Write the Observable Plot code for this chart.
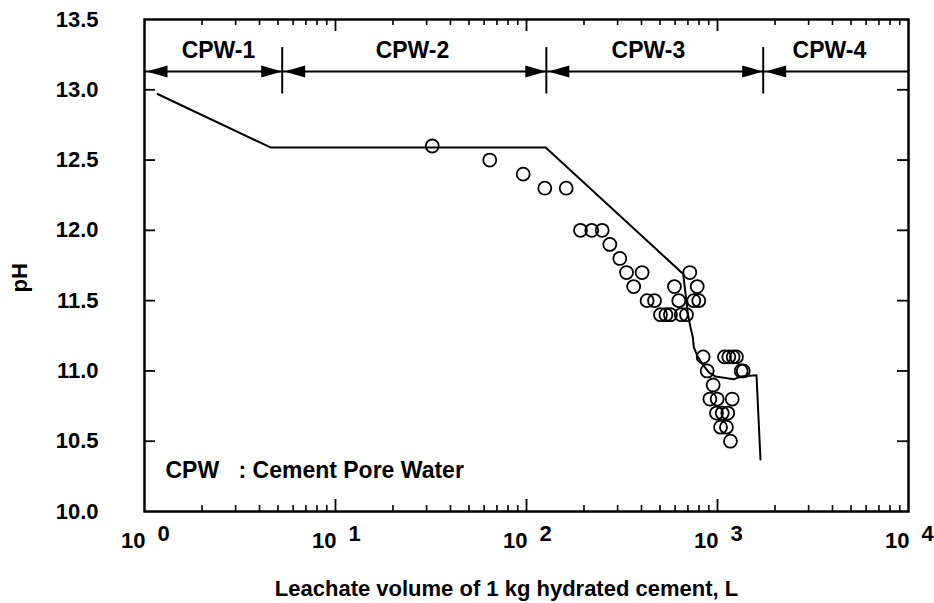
<!DOCTYPE html>
<html><head><meta charset="utf-8">
<script src="https://cdn.jsdelivr.net/npm/d3@7"></script>
<script src="https://cdn.jsdelivr.net/npm/@observablehq/plot@0.6"></script>
<style>
  body { margin: 0; background: #fff; }
  #chart svg { display: block; }
</style>
</head><body><div id="chart"></div>
<script>
// ---- measured pH of leachate (circles) ----
const measuredVolume = [32.1, 64.2, 96.1, 124.7, 161.4, 191.7, 219.6, 249, 273, 308, 334, 403, 364, 428, 468,
  503, 537, 567, 646, 688, 716, 595, 783, 627, 751, 798, 841, 1088, 1146, 1208, 1257, 883, 1330, 1364,
  949, 912, 996, 1194, 988, 1059, 1132, 1037, 1114, 1169];
const measuredPH = [12.6, 12.5, 12.4, 12.3, 12.3, 12.0, 12.0, 12.0, 11.9, 11.8, 11.7, 11.7, 11.6, 11.5, 11.5,
  11.4, 11.4, 11.4, 11.4, 11.4, 11.7, 11.6, 11.6, 11.5, 11.5, 11.5, 11.1, 11.1, 11.1, 11.1, 11.1, 11.0, 11.0, 11.0,
  10.9, 10.8, 10.8, 10.8, 10.7, 10.7, 10.7, 10.6, 10.6, 10.5];

// ---- model curve (line) ----
const modelVolume = [1.17, 4.57, 126, 661, 680, 699, 722, 743, 751, 783, 832, 900, 977, 1217, 1319, 1600, 1679];
const modelPH = [12.97, 12.59, 12.59, 11.69, 11.55, 11.41, 11.31, 11.24, 11.17, 11.11, 11.05, 10.99, 10.96, 10.94, 10.96, 10.97, 10.37];

// ---- region annotations ----
const regionLabels = ["CPW-1", "CPW-2", "CPW-3", "CPW-4"];
const regionLabelVolume = [2.44, 25.3, 435, 3856];
const regionLabelPH = 13.28;
const regionBoundaries = [5.26, 127, 1735];
const arrowPH = 13.13;
const dividerPH = [12.97, 13.30];
const noteKey = "CPW";
const noteText = ": Cement Pore Water";
const noteVolume = [1.288, 3.105];
const notePH = 10.29;

// ---- axes ----
const xDomain = [1, 10000];
const yDomain = [10, 13.5];
const decades = [1, 10, 100, 1000, 10000];
const minorTicks = [2,3,4,5,6,7,8,9,20,30,40,50,60,70,80,90,200,300,400,500,600,700,800,900,2000,3000,4000,5000,6000,7000,8000,9000];
const majorTicks = [10, 100, 1000];
const yTicks = [10.0, 10.5, 11.0, 11.5, 12.0, 12.5, 13.0, 13.5];
const yInnerTicks = [10.5, 11.0, 11.5, 12.0, 12.5, 13.0];
const xTitle = "Leachate volume of 1 kg hydrated cement, L";
const yTitle = "pH";

const W = 934, H = 603;
const mT = 19, mR = 26, mB = 92, mL = 144;
const PH = H - mT - mB, PW = W - mL - mR;

const points = measuredVolume.map((v, i) => ({v, ph: measuredPH[i]}));
const model = modelVolume.map((v, i) => ({v, ph: modelPH[i]}));
const regions = regionLabels.map((t, i) => ({t, v: regionLabelVolume[i]}));

const triLeft = {draw(ctx) { ctx.moveTo(0, 0); ctx.lineTo(21, -6); ctx.lineTo(21, 6); ctx.closePath(); }};
const triRight = {draw(ctx) { ctx.moveTo(0, 0); ctx.lineTo(-21, -6); ctx.lineTo(-21, 6); ctx.closePath(); }};

const font = "'Liberation Sans', Arial, Helvetica, sans-serif";

const chart = Plot.plot({
  width: W, height: H,
  marginTop: mT, marginRight: mR, marginBottom: mB, marginLeft: mL,
  style: {fontFamily: font, fontSize: "22px", fontWeight: "bold", background: "white", color: "black", overflow: "visible"},
  x: {type: "log", domain: xDomain, axis: null},
  y: {domain: yDomain, axis: null},
  marks: [
    // inward ticks
    Plot.tickX(minorTicks, {x: d => d, stroke: "black", strokeWidth: 1.6, insetTop: PH - 6}),
    Plot.tickX(minorTicks, {x: d => d, stroke: "black", strokeWidth: 1.6, insetBottom: PH - 6}),
    Plot.tickX(majorTicks, {x: d => d, stroke: "black", strokeWidth: 1.8, insetTop: PH - 12}),
    Plot.tickX(majorTicks, {x: d => d, stroke: "black", strokeWidth: 1.8, insetBottom: PH - 12}),
    Plot.tickY(yInnerTicks, {y: d => d, stroke: "black", strokeWidth: 1.8, insetRight: PW - 11}),
    Plot.tickY(yInnerTicks, {y: d => d, stroke: "black", strokeWidth: 1.8, insetLeft: PW - 11}),
    // tick labels
    Plot.text(yTicks, {y: d => d, text: d => d.toFixed(1), frameAnchor: "left", textAnchor: "end", dx: -46, fontSize: 22}),
    Plot.text(decades, {x: d => d, text: () => "10", frameAnchor: "bottom", textAnchor: "end", dx: 1, dy: 36, fontSize: 22}),
    Plot.text(decades, {x: d => d, text: d => String(Math.round(Math.log10(d))), frameAnchor: "bottom", textAnchor: "start", dx: 13, dy: 29, fontSize: 22}),
    // axis titles
    Plot.text([xTitle], {text: d => d, frameAnchor: "bottom", dx: -20, dy: 84, fontSize: 22}),
    Plot.text([yTitle], {text: d => d, frameAnchor: "left", dx: -125, dy: 27, rotate: -90, fontSize: 22}),
    // region annotations
    Plot.ruleY([arrowPH], {stroke: "black", strokeWidth: 2}),
    Plot.ruleX(regionBoundaries, {x: d => d, y1: dividerPH[0], y2: dividerPH[1], stroke: "black", strokeWidth: 2}),
    Plot.dot([xDomain[0], ...regionBoundaries], {x: d => d, y: () => arrowPH, symbol: triLeft, r: 5, fill: "black", stroke: "none", dx: 2}),
    Plot.dot(regionBoundaries, {x: d => d, y: () => arrowPH, symbol: triRight, r: 5, fill: "black", stroke: "none"}),
    Plot.text(regions, {x: "v", y: () => regionLabelPH, text: "t", fontSize: 23}),
    Plot.text([noteKey], {x: () => noteVolume[0], y: () => notePH, text: d => d, textAnchor: "start", fontSize: 23}),
    Plot.text([noteText], {x: () => noteVolume[1], y: () => notePH, text: d => d, textAnchor: "start", fontSize: 23}),
    // data
    Plot.line(model, {x: "v", y: "ph", stroke: "black", strokeWidth: 2}),
    Plot.dot(points, {x: "v", y: "ph", r: 6.5, stroke: "black", strokeWidth: 1.8, fill: "none"}),
    Plot.frame({stroke: "black", strokeWidth: 2.5})
  ]
});
document.getElementById("chart").appendChild(chart);
</script>
</body></html>
